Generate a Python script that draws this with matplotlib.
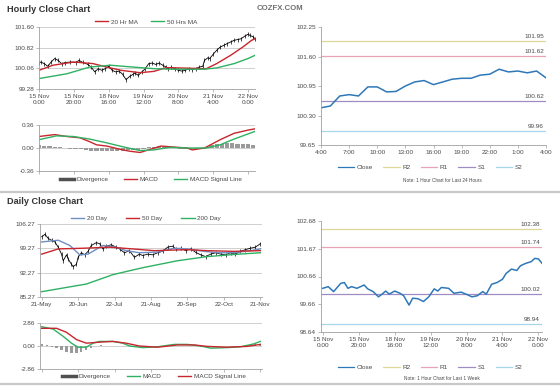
import numpy as np
import matplotlib.pyplot as plt
from matplotlib.lines import Line2D

plt.rcParams['font.family'] = ['Liberation Sans', 'DejaVu Sans']

# ---------------- hourly close chart (last ~5 days) ----------------
hr_hours = [0, 1, 3, 5, 7, 9, 11, 13, 15, 18, 21, 23, 25, 28, 30, 32, 34, 36, 38, 40,
            42, 44, 46, 48, 50, 52, 54, 55, 57, 59, 61, 63, 65, 67, 69, 71, 73, 74, 76, 78,
            80, 82, 84, 86, 88, 90, 92, 94, 95, 97, 98, 100, 102, 104, 106, 108, 110, 112, 114, 116,
            118, 120, 121, 123, 124]
hr_close = [100.25, 100.29, 100.23, 100.13, 100.29, 100.42, 100.35, 100.23, 100.27, 100.29,
            100.27, 100.35, 100.28, 100.20, 100.10, 99.92, 100.04, 99.98, 100.04, 100.13,
            99.98, 99.92, 99.95, 99.83, 99.63, 99.75, 99.83, 99.88, 99.79, 99.92,
            100.04, 100.23, 100.25, 100.20, 100.25, 100.17, 100.10, 100.04, 100.10, 100.04,
            99.98, 99.95, 99.98, 100.04, 100.00, 100.04, 100.10, 100.13, 100.35, 100.45,
            100.42, 100.58, 100.73, 100.85, 100.91, 100.98, 101.04, 101.10, 101.13, 101.16,
            101.25, 101.33, 101.29, 101.23, 101.16]
ma20_hours = [0, 8, 20, 31, 39, 47, 58, 66, 73, 85, 96, 102, 110, 117, 122, 124]
ma20_vals = [99.98, 100.17, 100.29, 100.23, 100.10, 99.98, 99.89, 99.94, 100.08, 100.06,
             100.04, 100.23, 100.54, 100.85, 101.10, 101.16]
ma50_hours = [0, 16, 29, 41, 54, 66, 77, 95, 102, 112, 120, 124]
ma50_vals = [99.67, 99.85, 100.10, 100.17, 100.10, 100.04, 100.02, 100.02, 100.07, 100.23,
             100.42, 100.54]
hr_ticks = [0, 20, 40, 60, 80, 100, 120]
hr_ticklabels = ['15 Nov\n0:00', '15 Nov\n20:00', '18 Nov\n16:00', '19 Nov\n12:00',
                 '20 Nov\n8:00', '21 Nov\n4:00', '22 Nov\n0:00']
hr_yticks = [99.28, 100.06, 100.82, 101.60]

hmacd_hours = [0, 9, 16, 23.5, 29, 33, 39, 46.5, 52, 58, 64, 70, 75, 85, 88, 95, 98.5, 104, 112, 120, 124]
hmacd_vals = [0.18, 0.21, 0.18, 0.16, 0.10, 0.05, 0.03, -0.02, -0.05, -0.07, -0.02, 0.03, 0.02,
              0.0, -0.03, 0.0, 0.05, 0.13, 0.23, 0.28, 0.30]
hsig_hours = [0, 10, 19.6, 29, 39, 48, 58, 66, 75, 85, 96, 104, 112, 120, 124]
hsig_vals = [0.13, 0.19, 0.18, 0.14, 0.08, 0.02, -0.04, -0.03, 0.01, 0.0, 0.0, 0.05, 0.14, 0.22, 0.26]
hdiv_hours = list(range(0, 124, 3))
hdiv_vals = [0.04, 0.03, 0.03, 0.02, 0.01, 0.0, -0.01, -0.01, -0.02, -0.03, -0.04, -0.05, -0.05,
             -0.05, -0.04, -0.04, -0.04, -0.03, -0.03, -0.03, -0.01, 0.01, 0.02, 0.03, 0.02, 0.01,
             0.0, -0.01, -0.01, -0.02, -0.01, 0.0, 0.02, 0.04, 0.06, 0.07, 0.08, 0.08, 0.07, 0.07,
             0.06, 0.04]

# ---------------- last 24 hours with pivots ----------------
day_hours = list(range(25))
day_close = [100.47, 100.51, 100.73, 100.76, 100.73, 100.93, 100.93, 100.82, 100.83, 100.95,
             101.04, 101.07, 100.98, 101.04, 101.10, 101.12, 101.12, 101.19, 101.21, 101.32,
             101.26, 101.28, 101.24, 101.28, 101.13]
day_ticklabels = ['4:00', '7:00', '10:00', '13:00', '16:00', '19:00', '22:00', '1:00', '4:00']
day_yticks = [99.65, 100.30, 100.95, 101.60, 102.25]
day_pivots = [101.95, 101.62, 100.62, 99.96]   # R2, R1, S1, S2

# ---------------- daily close chart ----------------
d_days = [0, 2, 4, 6, 8, 10, 12, 13, 15, 16, 18, 19, 21, 22, 24, 26, 28, 30, 33, 35,
          37, 39, 42, 45, 47, 50, 53, 56, 59, 61, 64, 67, 70, 73, 76, 79, 81, 84, 87, 90,
          93, 96, 99, 102, 105, 108, 111, 114, 117, 120, 123, 126, 129, 132]
d_close = [102.6, 103.3, 102.1, 101.6, 101.1, 99.6, 97.6, 95.7, 97.4, 96.2,
           94.7, 94.0, 94.7, 96.7, 98.0, 97.4, 98.4, 100.1, 100.9, 100.6,
           99.1, 99.9, 100.3, 99.6, 99.1, 98.0, 98.6, 96.7, 97.6, 97.2,
           97.6, 97.4, 98.0, 98.4, 99.6, 99.9, 99.1, 99.3, 98.6, 99.1,
           98.1, 97.4, 96.9, 97.6, 98.0, 97.6, 97.4, 98.0, 97.6, 98.4,
           98.9, 99.3, 99.6, 100.6]
ma20d_days = [0, 10, 17, 23, 28, 37, 45, 51, 59, 70, 80, 88, 98, 106, 116, 126, 132]
ma20d_vals = [101.1, 101.6, 100.1, 97.4, 97.6, 100.1, 99.6, 98.6, 98.0, 98.2, 99.3, 99.1,
              98.4, 98.0, 98.0, 98.6, 99.1]
ma50d_days = [0, 10, 25, 41, 55, 68, 88, 100, 116, 132]
ma50d_vals = [97.6, 99.1, 99.3, 99.6, 99.1, 98.6, 98.9, 98.6, 98.4, 98.6]
ma200d_days = [0, 27, 43, 61, 82, 100, 116, 132]
ma200d_vals = [86.8, 89.0, 91.7, 93.7, 95.7, 96.9, 97.5, 98.0]
d_ticks = [0, 22, 44, 66, 88, 110, 132]
d_ticklabels = ['21-May', '20-Jun', '22-Jul', '21-Aug', '20-Sep', '22-Oct', '21-Nov']
d_yticks = [85.27, 92.27, 99.27, 106.27]

dmacd_days = [0, 7, 13, 18, 22, 27, 31, 35, 43, 49, 53, 61, 70, 80, 88, 96, 102, 112, 120, 128, 132]
dmacd_vals = [2.4, 2.1, 1.2, 0.35, -0.15, -0.15, 0.35, 0.57, 0.57, 0.35, 0.0, -0.2, -0.1, 0.2,
              0.2, 0.0, -0.27, -0.2, -0.1, 0.26, 0.57]
dsig_days = [0, 9, 15, 21, 27, 35, 43, 51, 59, 70, 82, 92, 100, 112, 124, 132]
dsig_vals = [2.2, 2.2, 1.7, 0.8, 0.35, 0.48, 0.57, 0.35, 0.0, -0.15, 0.13, 0.13, -0.05, -0.15,
             -0.05, 0.2]
ddiv_days = list(range(0, 133, 3))
ddiv_vals = [0.2, 0.1, -0.1, -0.3, -0.5, -0.7, -0.85, -0.9, -0.75, -0.5, -0.2, 0.05, 0.1, 0.05,
             0.0, 0.0, 0.0, -0.05, -0.1, -0.15, -0.15, -0.1, 0.0, 0.05, 0.05, 0.05, 0.05, 0.05,
             0.05, 0.05, 0.0, -0.05, -0.1, -0.15, -0.15, -0.1, -0.05, -0.05, 0.0, 0.0, 0.05, 0.1,
             0.15, 0.2, 0.25]

# ---------------- last week with pivots ----------------
wk_hours = [0, 3, 6, 10, 12, 14, 16, 19, 23, 25, 28, 31, 33, 35, 37, 40, 43, 45, 48, 50,
            53, 56, 59, 62, 64, 66, 70, 73, 77, 80, 83, 86, 89, 91, 94, 97, 100, 102, 105, 108,
            110, 113, 116, 118, 120, 122]
wk_close = [100.23, 100.29, 100.11, 100.41, 100.44, 100.23, 100.29, 100.23, 100.35, 100.21,
            100.11, 99.92, 100.02, 100.13, 100.02, 100.13, 100.05, 99.96, 99.62, 99.87,
            99.85, 99.75, 99.92, 100.21, 100.13, 100.26, 100.23, 100.05, 100.09, 100.01,
            99.92, 99.96, 100.11, 100.02, 100.38, 100.44, 100.56, 100.77, 100.93, 100.88,
            101.05, 101.14, 101.20, 101.32, 101.30, 101.14]
wk_yticks = [98.64, 99.65, 100.66, 101.67, 102.68]
wk_ytlabels = ['98.64', '99.66', '100.66', '101.67', '102.68']
wk_pivots = [102.38, 101.74, 100.02, 98.94]

pivot_names = ['R2', 'R1', 'S1', 'S2']
pivot_colors = ['#dcd89a', '#e8a4b6', '#a08cc4', '#a6d6ea']

W, H = 560, 386
FS = 4.6
GRAY = '#a0a0a0'
TXT = '#484848'
RED = '#c8262c'
GREEN = '#2fb163'
BLUE = '#2f78b8'


def box(l, t, r, b):
    return [l / W, 1 - b / H, (r - l) / W, (b - t) / H]


def fpt(x, y):
    return (x / W, 1 - y / H)


def style(ax, grid=True):
    for s in ['top', 'right']:
        ax.spines[s].set_visible(False)
    for s in ['left', 'bottom']:
        ax.spines[s].set_color(GRAY)
        ax.spines[s].set_linewidth(0.6)
    ax.tick_params(direction='out', length=2, width=0.5, color=GRAY, labelsize=FS,
                   labelcolor=TXT, pad=1.5)
    if grid:
        ax.yaxis.grid(True, color='#c8c8c8', lw=0.6)
        ax.set_axisbelow(True)


def legend_at(ax, handles, labels, x, y, spacing, hlen=2.1):
    ax.legend(handles, labels, loc='center', bbox_to_anchor=fpt(x, y),
              bbox_transform=fig.transFigure, ncol=len(labels), frameon=False, fontsize=FS,
              handlelength=hlen, columnspacing=spacing, handletextpad=0.4, borderpad=0,
              labelcolor=TXT)


fig = plt.figure(figsize=(W / 100, H / 100), dpi=100)

fig.text(*fpt(7, 9), 'Hourly Close Chart', fontsize=6.6, weight='bold', color='#333333', va='center')
fig.text(*fpt(7, 202), 'Daily Close Chart', fontsize=6.6, weight='bold', color='#333333', va='center')
fig.text(*fpt(280, 9), 'COZFX.COM', fontsize=5.6, weight='bold', color='#707070', ha='center', va='center')
for yy in [192, 384]:
    fig.add_artist(Line2D([0, 1], [1 - yy / H] * 2, color='#c8c8c8', lw=1.6))

# hourly price
ax = fig.add_axes(box(39, 27, 255, 89))
style(ax)
ax.plot(hr_hours, hr_close, color='black', lw=0.6, marker='|', ms=2.5, mew=0.5)
l1, = ax.plot(ma20_hours, ma20_vals, color=RED, lw=1.0)
l2, = ax.plot(ma50_hours, ma50_vals, color=GREEN, lw=1.0)
ax.set_xlim(0, 124)
ax.set_ylim(99.28, 101.60)
ax.set_yticks(hr_yticks)
ax.set_yticklabels(['%.2f' % v for v in hr_yticks])
ax.set_xticks(hr_ticks)
ax.set_xticklabels(hr_ticklabels, linespacing=1.2)
legend_at(ax, [l1, l2], ['20 Hr MA', '50 Hrs MA'], 146, 22, 2.0)

# hourly MACD
ax = fig.add_axes(box(39, 125, 255, 171))
style(ax)
ax.bar(hdiv_hours, hdiv_vals, width=2.4, color='#9a9a9a')
l1, = ax.plot(hmacd_hours, hmacd_vals, color=RED, lw=1.0)
l2, = ax.plot(hsig_hours, hsig_vals, color=GREEN, lw=1.0)
ax.set_xlim(0, 124)
ax.set_ylim(-0.36, 0.36)
ax.set_yticks([-0.36, 0.0, 0.36])
ax.set_yticklabels(['-0.36', '0.00', '0.36'])
ax.set_xticks(hr_ticks)
ax.tick_params(axis='x', labelbottom=False)
legend_at(ax, [Line2D([], [], color='#505050', lw=2.5), l1, l2],
          ['Divergence', 'MACD', 'MACD Signal Line'], 151, 179, 2.4)

# daily price
ax = fig.add_axes(box(40, 224, 262, 297))
style(ax)
ax.plot(d_days, d_close, color='black', lw=0.6, marker='|', ms=2.5, mew=0.5)
l1, = ax.plot(ma20d_days, ma20d_vals, color='#6f8fc4', lw=1.0)
l2, = ax.plot(ma50d_days, ma50d_vals, color=RED, lw=1.0)
l3, = ax.plot(ma200d_days, ma200d_vals, color=GREEN, lw=1.0)
ax.set_xlim(-1, 133)
ax.set_ylim(85.27, 106.27)
ax.set_yticks(d_yticks)
ax.set_yticklabels(['%.2f' % v for v in d_yticks])
ax.set_xticks(d_ticks)
ax.set_xticklabels(d_ticklabels)
legend_at(ax, [l1, l2, l3], ['20 Day', '50 Day', '200 Day'], 146, 218, 3.0)

# daily MACD
ax = fig.add_axes(box(40, 323, 262, 369))
style(ax)
ax.bar(ddiv_days, ddiv_vals, width=1.3, color='#9a9a9a')
l1, = ax.plot(dmacd_days, dmacd_vals, color=GREEN, lw=1.0)
l2, = ax.plot(dsig_days, dsig_vals, color=RED, lw=1.0)
ax.set_xlim(-1, 133)
ax.set_ylim(-2.86, 2.86)
ax.set_yticks([-2.86, 0.0, 2.86])
ax.set_yticklabels(['-2.86', '0.00', '2.86'])
ax.set_xticks(d_ticks)
ax.tick_params(axis='x', labelbottom=False)
legend_at(ax, [Line2D([], [], color='#505050', lw=2.5), l1, l2],
          ['Divergence', 'MACD', 'MACD Signal Line'], 154, 376, 2.6)


def pivot_panel(rect, xs, ys, pivots, xlim, ylim, yticks, ytlabels, xticks, xtlabels,
                leg_y, note, note_y):
    ax = fig.add_axes(box(*rect))
    style(ax, grid=False)
    for p, c in zip(pivots, pivot_colors):
        ax.axhline(p, color=c, lw=0.9)
        ax.annotate('%.2f' % p, (0.99, p), xycoords=('axes fraction', 'data'),
                    xytext=(0, 1.5), textcoords='offset points', ha='right', va='bottom',
                    fontsize=FS, color=TXT)
    ax.plot(xs, ys, color=BLUE, lw=1.1)
    ax.set_xlim(*xlim)
    ax.set_ylim(*ylim)
    ax.set_yticks(yticks)
    ax.set_yticklabels(ytlabels)
    ax.set_xticks(xticks)
    ax.set_xticklabels(xtlabels, linespacing=1.2)
    handles = [Line2D([], [], color=BLUE, lw=0.9)] + \
              [Line2D([], [], color=c, lw=0.9) for c in pivot_colors]
    legend_at(ax, handles, ['Close'] + pivot_names, 430, leg_y, 1.6, hlen=2.6)
    fig.text(*fpt(442, note_y), note, ha='center', va='center', fontsize=3.4, color=TXT)


pivot_panel((321, 27, 546, 145), day_hours, day_close, day_pivots, (0, 24), (99.65, 102.25),
            day_yticks, ['%.2f' % v for v in day_yticks], list(range(0, 25, 3)), day_ticklabels,
            167, 'Note: 1 Hour Chart for Last 24 Hours', 180)

pivot_panel((321, 221, 542, 332), wk_hours, wk_close, wk_pivots, (-1, 122), (98.64, 102.68),
            wk_yticks, wk_ytlabels, hr_ticks, hr_ticklabels,
            367, 'Note: 1 Hour Chart for Last 1 Week', 378)

fig.savefig('out.png', dpi=100)
